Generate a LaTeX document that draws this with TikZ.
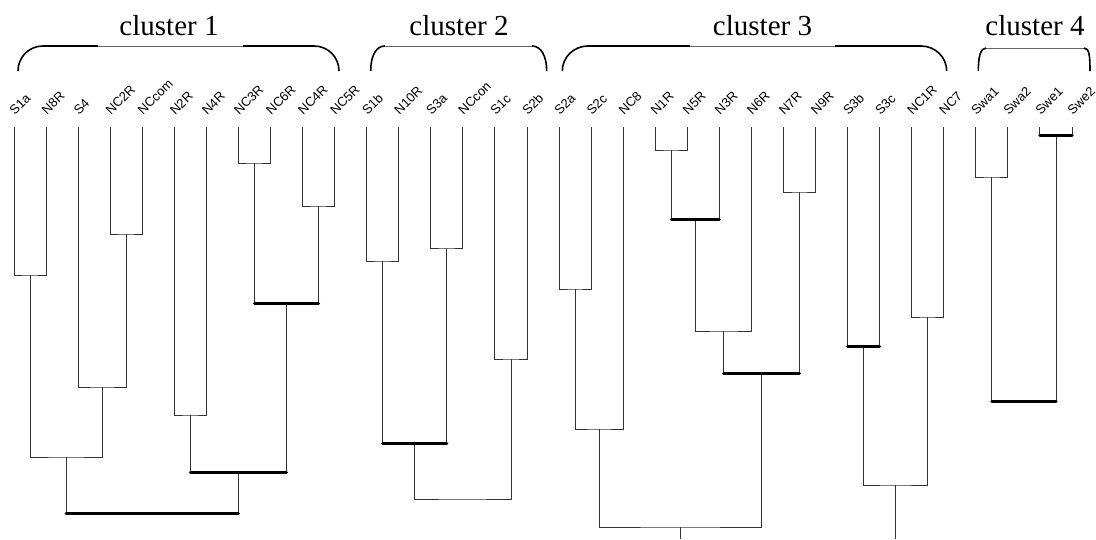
\documentclass[tikz,border=0pt]{standalone}
\usepackage{fontspec}
\setmainfont{Liberation Serif}
\setsansfont{Liberation Sans}

\begin{document}
\begin{tikzpicture}[x=1pt, y=-1pt,
    leaflab/.style={xshift=1pt, yshift=11pt, rotate=45, anchor=south west, inner sep=0pt, font=\sffamily\fontsize{13}{15}\selectfont},
    link/.style={line width=0.9pt, black!80},
    bold/.style={line width=3pt, line cap=round},
    title/.style={anchor=base, font=\fontsize{29}{34}\selectfont},
    brace/.style={line width=1.6pt},
    braceline/.style={line width=0.8pt, black!60}]
  \useasboundingbox (0,0) rectangle (1096,539);

  \coordinate (S1a) at (14,127); \node[leaflab] (lS1a) at (S1a) {S1a};
  \coordinate (N8R) at (46.1,127); \node[leaflab] (lN8R) at (N8R) {N8R};
  \coordinate (S4) at (78.1,127); \node[leaflab] (lS4) at (S4) {S4};
  \coordinate (NC2R) at (110.2,127); \node[leaflab] (lNC2R) at (NC2R) {NC2R};
  \coordinate (NCcom) at (142.2,127); \node[leaflab] (lNCcom) at (NCcom) {NCcom};
  \coordinate (N2R) at (174.3,127); \node[leaflab] (lN2R) at (N2R) {N2R};
  \coordinate (N4R) at (206.4,127); \node[leaflab] (lN4R) at (N4R) {N4R};
  \coordinate (NC3R) at (238.4,127); \node[leaflab] (lNC3R) at (NC3R) {NC3R};
  \coordinate (NC6R) at (270.5,127); \node[leaflab] (lNC6R) at (NC6R) {NC6R};
  \coordinate (NC4R) at (302.5,127); \node[leaflab] (lNC4R) at (NC4R) {NC4R};
  \coordinate (NC5R) at (334.6,127); \node[leaflab] (lNC5R) at (NC5R) {NC5R};
  \coordinate (S1b) at (366.7,127); \node[leaflab] (lS1b) at (S1b) {S1b};
  \coordinate (N10R) at (398.7,127); \node[leaflab] (lN10R) at (N10R) {N10R};
  \coordinate (S3a) at (430.8,127); \node[leaflab] (lS3a) at (S3a) {S3a};
  \coordinate (NCcon) at (462.8,127); \node[leaflab] (lNCcon) at (NCcon) {NCcon};
  \coordinate (S1c) at (494.9,127); \node[leaflab] (lS1c) at (S1c) {S1c};
  \coordinate (S2b) at (527,127); \node[leaflab] (lS2b) at (S2b) {S2b};
  \coordinate (S2a) at (559,127); \node[leaflab] (lS2a) at (S2a) {S2a};
  \coordinate (S2c) at (591.1,127); \node[leaflab] (lS2c) at (S2c) {S2c};
  \coordinate (NC8) at (623.1,127); \node[leaflab] (lNC8) at (NC8) {NC8};
  \coordinate (N1R) at (655.2,127); \node[leaflab] (lN1R) at (N1R) {N1R};
  \coordinate (N5R) at (687.3,127); \node[leaflab] (lN5R) at (N5R) {N5R};
  \coordinate (N3R) at (719.3,127); \node[leaflab] (lN3R) at (N3R) {N3R};
  \coordinate (N6R) at (751.4,127); \node[leaflab] (lN6R) at (N6R) {N6R};
  \coordinate (N7R) at (783.4,127); \node[leaflab] (lN7R) at (N7R) {N7R};
  \coordinate (N9R) at (815.5,127); \node[leaflab] (lN9R) at (N9R) {N9R};
  \coordinate (S3b) at (847.6,127); \node[leaflab] (lS3b) at (S3b) {S3b};
  \coordinate (S3c) at (879.6,127); \node[leaflab] (lS3c) at (S3c) {S3c};
  \coordinate (NC1R) at (911.7,127); \node[leaflab] (lNC1R) at (NC1R) {NC1R};
  \coordinate (NC7) at (943.7,127); \node[leaflab] (lNC7) at (NC7) {NC7};
  \coordinate (Swa1) at (975.8,127); \node[leaflab] (lSwa1) at (Swa1) {Swa1};
  \coordinate (Swa2) at (1007.9,127); \node[leaflab] (lSwa2) at (Swa2) {Swa2};
  \coordinate (Swe1) at (1039.9,127); \node[leaflab] (lSwe1) at (Swe1) {Swe1};
  \coordinate (Swe2) at (1072,127); \node[leaflab] (lSwe2) at (Swe2) {Swe2};

  \coordinate (c1a) at (30,275);
  \coordinate (c1b) at (126.2,234);
  \coordinate (c1c) at (102.2,387);
  \coordinate (c1d) at (66.1,457);
  \coordinate (c1e) at (190.3,415);
  \coordinate (c1f) at (254.5,163);
  \coordinate (c1g) at (318.6,206);
  \coordinate (c1h) at (286.5,303);
  \coordinate (c1i) at (238.4,472);
  \coordinate (c1j) at (152.3,513);
  \coordinate (c2a) at (382.7,261);
  \coordinate (c2b) at (446.8,248);
  \coordinate (c2c) at (414.8,443);
  \coordinate (c2d) at (511,359);
  \coordinate (c2e) at (462.9,499);
  \coordinate (c3a) at (575.1,289);
  \coordinate (c3b) at (599.1,429);
  \coordinate (c3c) at (671.3,150);
  \coordinate (c3d) at (695.3,219);
  \coordinate (c3e) at (723.4,331);
  \coordinate (c3f) at (799.5,192);
  \coordinate (c3g) at (761.5,373);
  \coordinate (c3h) at (680.3,527);
  \coordinate (c3i) at (863.6,346);
  \coordinate (c3j) at (927.7,317);
  \coordinate (c3k) at (895.7,485);
  \coordinate (c4a) at (991.9,177);
  \coordinate (c4b) at (1056,135);
  \coordinate (c4c) at (1024,401);
  \coordinate (e3h) at (680.3,539);
  \coordinate (e3k) at (895.7,539);

  \draw[link] (S1a) |- (c1a) -| (N8R);
  \draw[link] (NC2R) |- (c1b) -| (NCcom);
  \draw[link] (S4) |- (c1c) -| (c1b);
  \draw[link] (c1a) |- (c1d) -| (c1c);
  \draw[link] (N2R) |- (c1e) -| (N4R);
  \draw[link] (NC3R) |- (c1f) -| (NC6R);
  \draw[link] (NC4R) |- (c1g) -| (NC5R);
  \draw[link] (c1f) |- (c1h) -| (c1g);
  \draw[link] (c1e) |- (c1i) -| (c1h);
  \draw[link] (c1d) |- (c1j) -| (c1i);
  \draw[link] (S1b) |- (c2a) -| (N10R);
  \draw[link] (S3a) |- (c2b) -| (NCcon);
  \draw[link] (c2a) |- (c2c) -| (c2b);
  \draw[link] (S1c) |- (c2d) -| (S2b);
  \draw[link] (c2c) |- (c2e) -| (c2d);
  \draw[link] (S2a) |- (c3a) -| (S2c);
  \draw[link] (c3a) |- (c3b) -| (NC8);
  \draw[link] (N1R) |- (c3c) -| (N5R);
  \draw[link] (c3c) |- (c3d) -| (N3R);
  \draw[link] (c3d) |- (c3e) -| (N6R);
  \draw[link] (N7R) |- (c3f) -| (N9R);
  \draw[link] (c3e) |- (c3g) -| (c3f);
  \draw[link] (c3b) |- (c3h) -| (c3g);
  \draw[link] (c3h) -- (e3h);
  \draw[link] (S3b) |- (c3i) -| (S3c);
  \draw[link] (NC1R) |- (c3j) -| (NC7);
  \draw[link] (c3i) |- (c3k) -| (c3j);
  \draw[link] (c3k) -- (e3k);
  \draw[link] (Swa1) |- (c4a) -| (Swa2);
  \draw[link] (Swe1) |- (c4b) -| (Swe2);
  \draw[link] (c4a) |- (c4c) -| (c4b);

  \draw[bold] (c1f |- c1h) -- (c1g |- c1h);
  \draw[bold] (c1e |- c1i) -- (c1h |- c1i);
  \draw[bold] (c1d |- c1j) -- (c1i |- c1j);
  \draw[bold] (c2a |- c2c) -- (c2b |- c2c);
  \draw[bold] (c3c |- c3d) -- (N3R |- c3d);
  \draw[bold] (c3e |- c3g) -- (c3f |- c3g);
  \draw[bold] (S3b |- c3i) -- (S3c |- c3i);
  \draw[bold] (Swe1 |- c4b) -- (Swe2 |- c4b);
  \draw[bold] (c4a |- c4c) -- (c4b |- c4c);

  \node[title] (t1) at (169,35) {cluster 1};
  \node[title] (t2) at (459,35) {cluster 2};
  \node[title] (t3) at (762.5,35) {cluster 3};
  \node[title] (t4) at (1035,35) {cluster 4};

  \draw[brace] (18,71) .. controls (18,57) and (29,46) .. (43,46) -- (98,46);
  \draw[braceline] (98,46) -- (243,46);
  \draw[brace] (243,46) -- (314,46) .. controls (328,46) and (339,57) .. (339,71);
  \draw[brace] (370.7,71) .. controls (370.7,56) and (376,46) .. (385,46);
  \draw[braceline] (385,46) -- (532,46);
  \draw[brace] (532,46) .. controls (541,46) and (546.7,56) .. (546.7,71);
  \draw[brace] (562.3,71) .. controls (562.3,57) and (574,46) .. (588,46) -- (690,46);
  \draw[braceline] (690,46) -- (835,46);
  \draw[brace] (835,46) -- (921,46) .. controls (935,46) and (946.7,57) .. (946.7,71);
  \draw[brace] (978.3,71) .. controls (978.3,57) and (980.5,48) .. (986,48);
  \draw[braceline] (986,48) -- (1084,48);
  \draw[brace] (1084,48) .. controls (1089.5,48) and (1090,57) .. (1090,71);
\end{tikzpicture}
\end{document}
